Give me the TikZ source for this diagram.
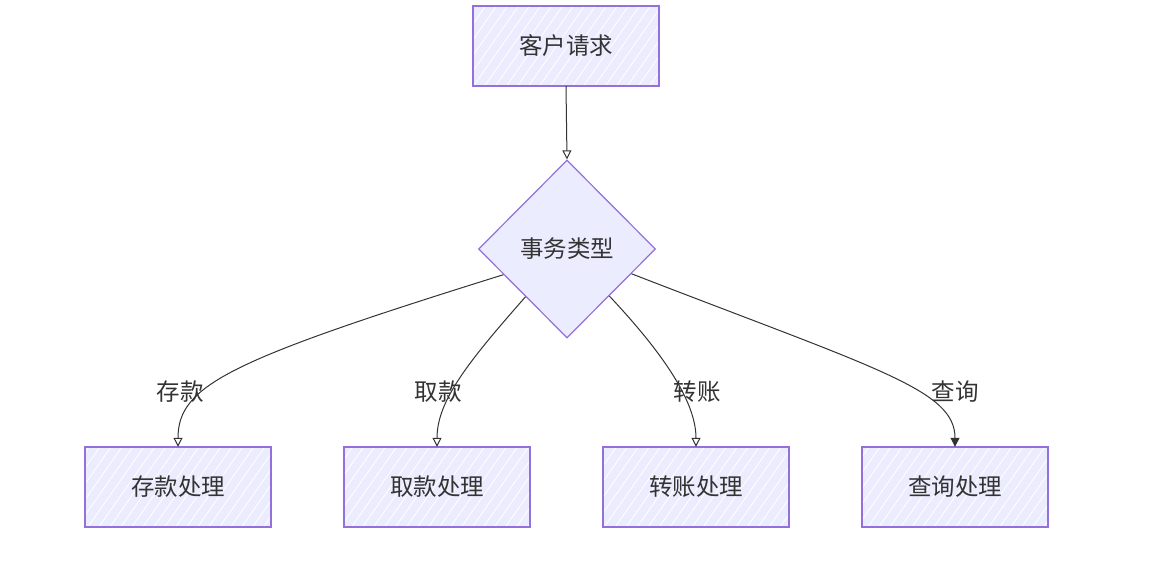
\documentclass[tikz,border=0pt]{standalone}
\usepackage{fontspec}
\setmainfont{Noto Sans CJK SC}
\usetikzlibrary{shapes.geometric,arrows.meta,patterns.meta}
\definecolor{boxfill}{HTML}{ECECFF}
\definecolor{boxline}{HTML}{9370DB}
\definecolor{ink}{HTML}{333333}
\tikzset{
  box/.style={rectangle, fill=boxfill,
    postaction={pattern={Lines[angle=55,distance=9pt,line width=0.8pt]}, pattern color=white},
    postaction={draw=boxline, line width=1.3pt},
    minimum width=186pt, minimum height=80pt, inner sep=0pt,
    font=\fontsize{23.5}{27}\selectfont, text=ink},
  decision/.style={diamond, aspect=1, draw=boxline, line width=1.2pt, fill=boxfill,
    minimum width=177pt, minimum height=178pt, inner sep=0pt,
    font=\fontsize{23.5}{27}\selectfont, text=ink},
  conn/.style={draw=ink, line width=1pt, -{Triangle[open,length=9pt,width=9pt]}},
  connf/.style={draw=ink, line width=1pt, -{Triangle[length=9pt,width=9pt]}},
  elabel/.style={font=\fontsize{23.5}{27}\selectfont, text=ink, inner sep=1pt}
}
\begin{document}
\begin{tikzpicture}[x=1pt,y=-1pt]
\useasboundingbox (0,0) rectangle (1159,574);
\node[box] (req) at (566,46) {客户请求};
\node[decision] (d) at (567,249) {事务类型};
\node[box] (ck) at (178,487) {存款处理};
\node[box] (qk) at (437,487) {取款处理};
\node[box] (zz) at (696,487) {转账处理};
\node[box] (cx) at (955,487) {查询处理};

\draw[conn] (req.south) -- (d.north);
\draw[conn] (d.-158) .. controls (230,360) and (178,385) .. (ck.north);
\draw[conn] (d.-131) .. controls (470,360) and (437,400) .. (qk.north);
\draw[conn] (d.-48) .. controls (660,350) and (696,400) .. (zz.north);
\draw[connf] (d.-21) .. controls (880,370) and (955,390) .. (cx.north);

\node[elabel] (l1) at (180,392) {存款};
\node[elabel] (l2) at (438,392) {取款};
\node[elabel] (l3) at (697,392) {转账};
\node[elabel] (l4) at (955,392) {查询};
\end{tikzpicture}
\end{document}
